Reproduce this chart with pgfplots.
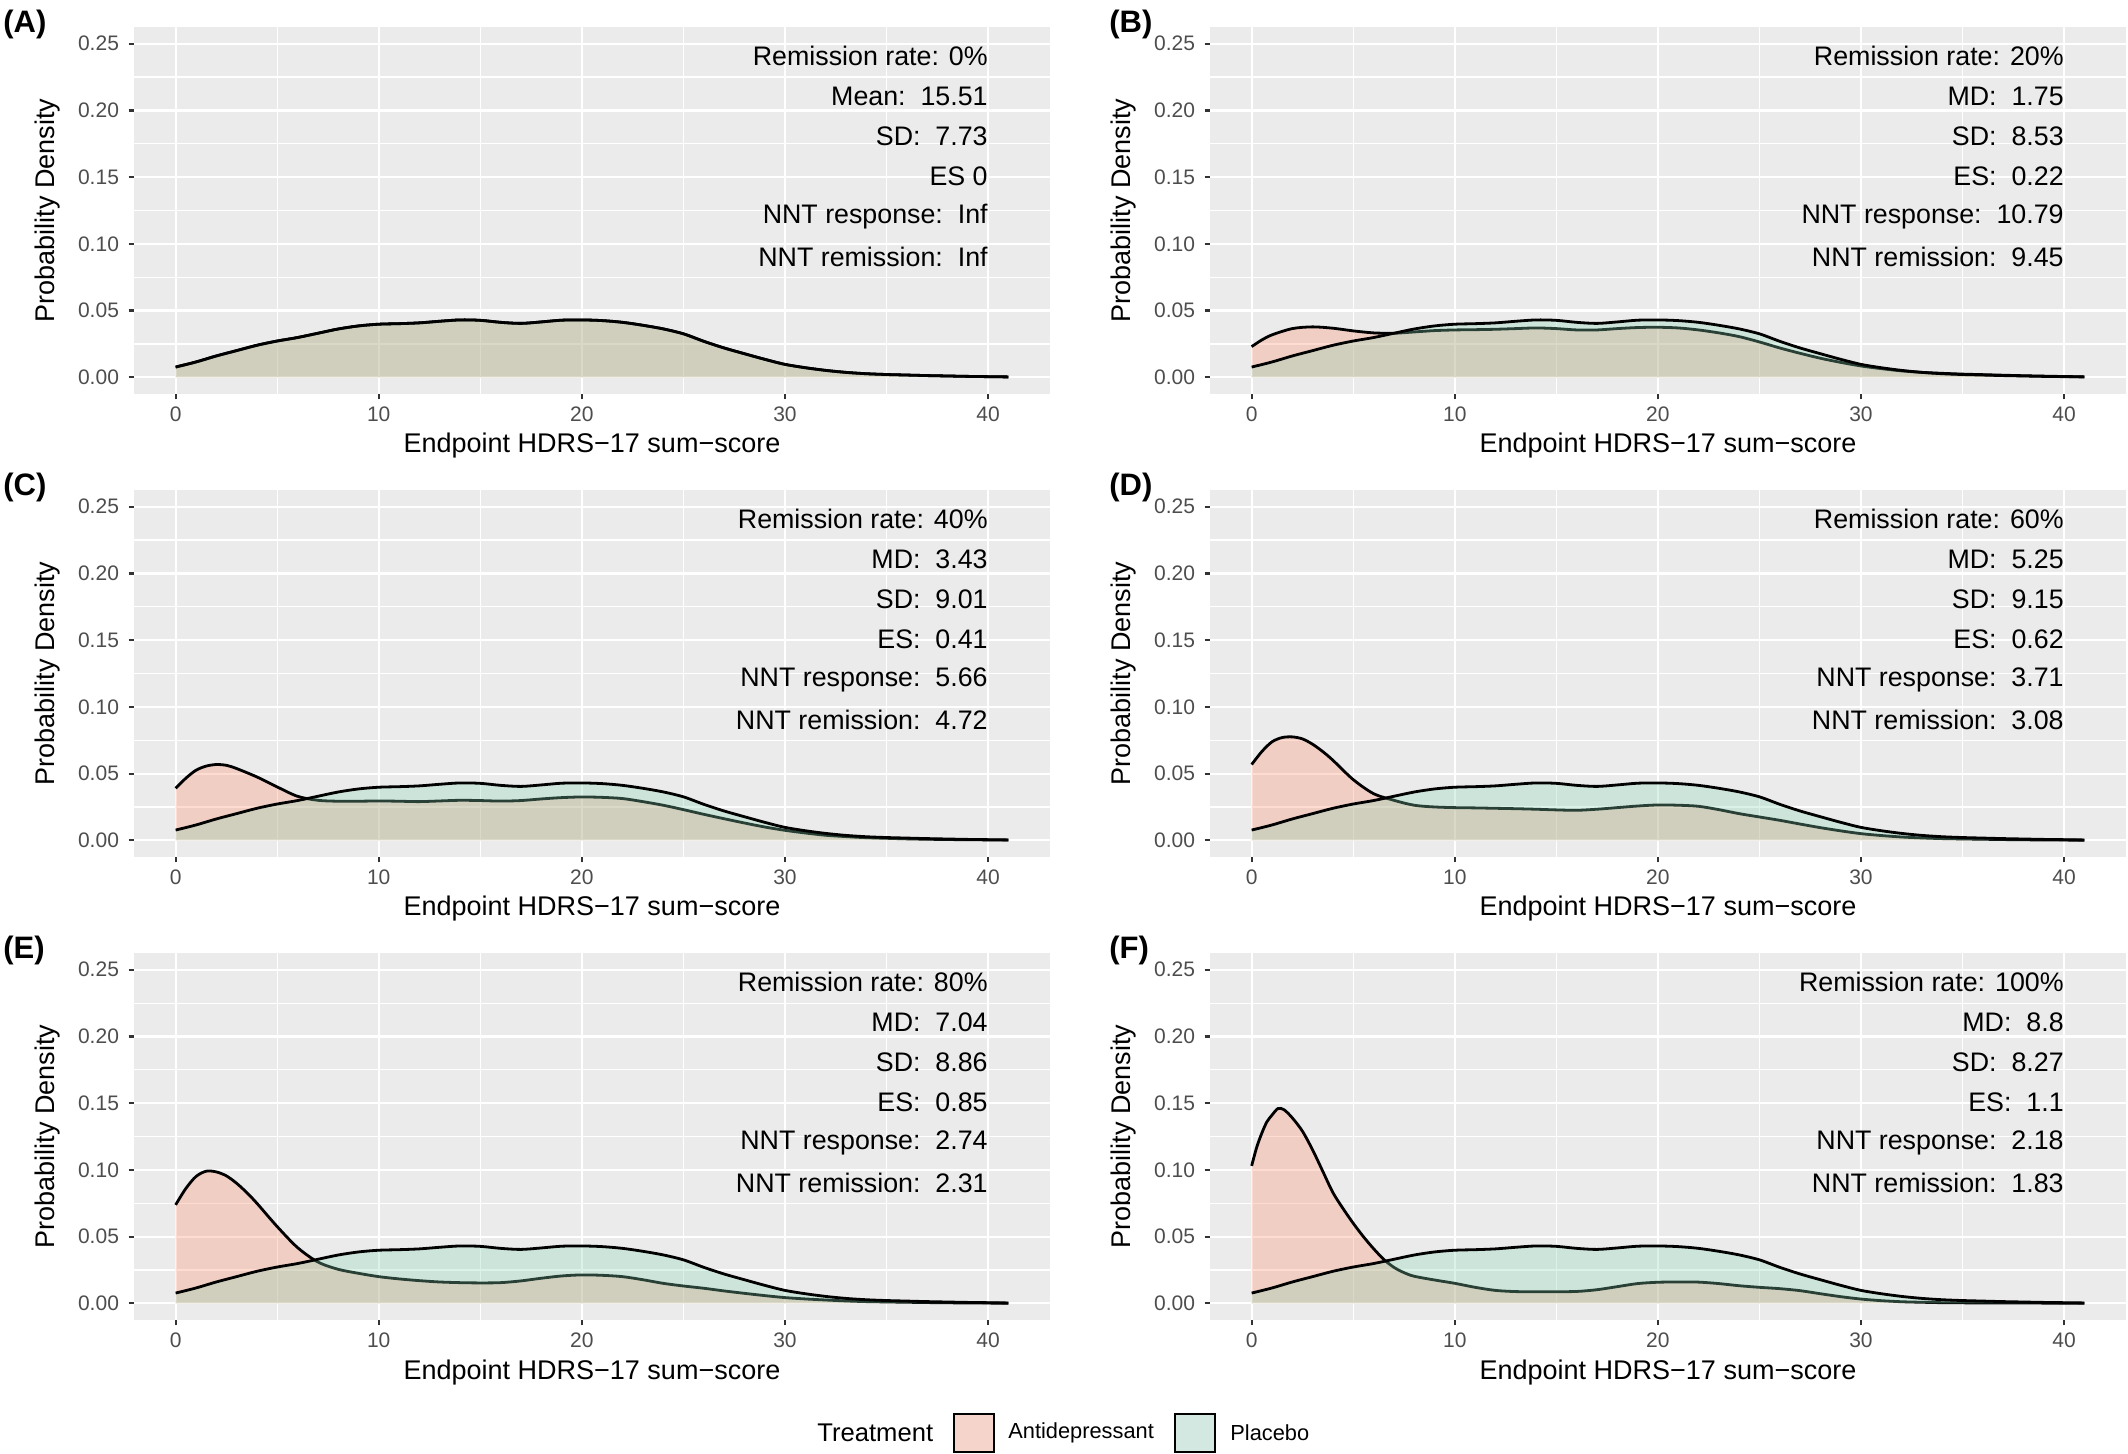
\documentclass[border=0pt]{standalone}
\usepackage{fontspec}
\setmainfont{Liberation Sans}
\usepackage{pgfplots}
\usepackage{pgfplotstable}
\pgfplotsset{compat=1.18}

\definecolor{bgGrey}{HTML}{EBEBEB}
\definecolor{tickGrey}{HTML}{333333}
\definecolor{labGrey}{HTML}{4D4D4D}
\definecolor{adCol}{RGB}{255,142,108}
\definecolor{plCol}{RGB}{135,212,178}
\definecolor{adKey}{HTML}{F5D5CB}
\definecolor{plKey}{HTML}{D2E8E0}

\pgfplotstableread{
x y
0 0.0077
1 0.0115
2 0.0160
3 0.0200
4 0.0240
5 0.0272
6 0.0298
7 0.0330
8 0.0362
9 0.0385
10 0.0398
11 0.0402
12 0.0408
13 0.0420
14 0.0430
15 0.0427
16 0.0412
17 0.0404
18 0.0415
19 0.0428
20 0.0430
21 0.0425
22 0.0412
23 0.0390
24 0.0363
25 0.0326
26 0.0270
27 0.0220
28 0.0177
29 0.0135
30 0.0097
31 0.0072
32 0.0052
33 0.0037
34 0.0027
35 0.0021
36 0.0017
37 0.0013
38 0.0010
39 0.0007
40 0.0005
41 0.0003
}\tabP

\pgfplotstableread{
x y
0 0.0230
0.5 0.0280
1 0.0318
2 0.0365
3 0.0378
4 0.0368
5 0.0348
6 0.0333
7 0.0330
8 0.0340
9 0.0350
10 0.0355
11 0.0357
12 0.0360
13 0.0365
14 0.0370
15 0.0365
16 0.0355
17 0.0355
18 0.0365
19 0.0373
20 0.0375
21 0.0370
22 0.0355
23 0.0333
24 0.0305
25 0.0265
26 0.0220
27 0.0180
28 0.0143
29 0.0112
30 0.0085
31 0.0065
32 0.0048
33 0.0037
34 0.0030
35 0.0024
36 0.0020
38 0.0012
40 0.0006
41 0.0004
}\tabB

\pgfplotstableread{
x y
0 0.0390
0.5 0.0465
1 0.0525
1.5 0.0556
2 0.0568
2.5 0.0562
3 0.0538
4 0.0475
5 0.0400
6 0.0330
7 0.0300
8 0.0293
9 0.0293
10 0.0295
11 0.0293
12 0.0290
13 0.0295
14 0.0300
15 0.0298
16 0.0294
17 0.0298
18 0.0310
19 0.0320
20 0.0325
21 0.0322
22 0.0313
23 0.0290
24 0.0263
25 0.0230
26 0.0195
27 0.0162
28 0.0130
29 0.0100
30 0.0075
31 0.0055
32 0.0038
33 0.0028
34 0.0020
36 0.0011
38 0.0006
41 0.0002
}\tabC

\pgfplotstableread{
x y
0 0.0568
0.5 0.0665
1 0.0738
1.5 0.0770
2 0.0775
2.5 0.0760
3 0.0720
3.5 0.0665
4 0.0600
5 0.0455
6 0.0350
7 0.0300
8 0.0263
9 0.0250
10 0.0245
11 0.0243
12 0.0240
13 0.0237
14 0.0233
15 0.0228
16 0.0225
17 0.0233
18 0.0245
19 0.0257
20 0.0265
21 0.0263
22 0.0255
23 0.0230
24 0.0200
25 0.0175
26 0.0150
27 0.0122
28 0.0095
29 0.0071
30 0.0050
31 0.0036
32 0.0025
33 0.0018
34 0.0013
36 0.0008
38 0.0004
41 0.0001
}\tabD

\pgfplotstableread{
x y
0 0.0738
0.5 0.0860
1 0.0950
1.5 0.0990
2 0.0985
2.5 0.0955
3 0.0900
3.5 0.0830
4 0.0750
5 0.0575
6 0.0418
7 0.0310
8 0.0255
9 0.0225
10 0.0200
11 0.0183
12 0.0170
13 0.0160
14 0.0155
15 0.0153
16 0.0155
17 0.0168
18 0.0188
19 0.0205
20 0.0213
21 0.0210
22 0.0200
23 0.0177
24 0.0150
25 0.0130
26 0.0113
27 0.0093
28 0.0075
29 0.0058
30 0.0043
31 0.0033
32 0.0025
33 0.0018
34 0.0013
36 0.0008
38 0.0004
41 0.0001
}\tabE

\pgfplotstableread{
x y
0 0.1030
0.25 0.1170
0.5 0.1275
0.75 0.1360
1 0.1410
1.3 0.1460
1.6 0.1450
2 0.1390
2.5 0.1290
3 0.1150
3.5 0.0990
4 0.0830
4.5 0.0710
5 0.0600
5.5 0.0500
6 0.0410
6.5 0.0330
7 0.0270
7.5 0.0230
8 0.0203
9 0.0175
10 0.0150
11 0.0120
12 0.0097
13 0.0088
14 0.0087
15 0.0087
16 0.0089
17 0.0102
18 0.0125
19 0.0148
20 0.0158
21 0.0160
22 0.0159
23 0.0148
24 0.0132
25 0.0120
26 0.0110
27 0.0095
28 0.0072
29 0.0050
30 0.0032
31 0.0020
32 0.0012
33 0.0008
34 0.0005
36 0.0003
41 0.0001
}\tabF

\pgfplotsset{
  panel/.style={
    scale only axis, width=458pt, height=183.5pt,
    xmin=-2.05, xmax=43.05, ymin=-0.0125, ymax=0.2625,
    axis background/.style={fill=bgGrey},
    axis line style={draw=none},
    xtick={0,10,20,30,40}, minor xtick={5,15,25,35},
    ytick={0,0.05,0.1,0.15,0.2,0.25},
    minor ytick={0.025,0.075,0.125,0.175,0.225},
    grid=both,
    major grid style={white, line width=1.1pt},
    minor grid style={white, line width=0.55pt},
    tick align=outside, tick pos=left,
    major tick length=2.7pt, minor tick length=0pt,
    major tick style={tickGrey, line width=1.1pt},
    /pgf/number format/assume math mode=true,
    ticklabel style={font=\fontsize{10.5}{12}\selectfont, text=labGrey},
    yticklabel style={/pgf/number format/fixed, /pgf/number format/fixed zerofill, /pgf/number format/precision=2, xshift=-1.3pt},
    xlabel={Endpoint HDRS−17 sum−score},
    ylabel={Probability Density},
    every axis x label/.style={at={(axis description cs:0.5,0)}, yshift=-26pt, anchor=center, font=\fontsize{13.5}{16}\selectfont},
    every axis y label/.style={at={(axis description cs:0,0.5)}, xshift=-43.25pt, rotate=90, anchor=center, font=\fontsize{13.5}{16}\selectfont},
  },
  adfill/.style={draw=none, fill=adCol, fill opacity=0.3, smooth},
  plfill/.style={draw=none, fill=plCol, fill opacity=0.3, smooth},
  dline/.style={black, line width=1.4pt, smooth},
}

\newcommand{\annot}[6]{%
  \node[anchor=east, inner sep=0pt, font=\fontsize{13.4}{16}\selectfont] at (axis cs:40,0.2405) {#1};
  \node[anchor=east, inner sep=0pt, font=\fontsize{13.4}{16}\selectfont] at (axis cs:40,0.2105) {#2};
  \node[anchor=east, inner sep=0pt, font=\fontsize{13.4}{16}\selectfont] at (axis cs:40,0.1805) {#3};
  \node[anchor=east, inner sep=0pt, font=\fontsize{13.4}{16}\selectfont] at (axis cs:40,0.1505) {#4};
  \node[anchor=east, inner sep=0pt, font=\fontsize{13.4}{16}\selectfont] at (axis cs:40,0.1205) {#5};
  \node[anchor=east, inner sep=0pt, font=\fontsize{13.4}{16}\selectfont] at (axis cs:40,0.0905) {#6};
}

\newcommand{\pairplot}[1]{%
  \addplot[adfill] table[x=x,y=y] {#1} \closedcycle;
  \addplot[dline] table[x=x,y=y] {#1};
  \addplot[plfill] table[x=x,y=y] {\tabP} \closedcycle;
  \addplot[dline] table[x=x,y=y] {\tabP};
}

\begin{document}
\begin{tikzpicture}
\path[use as bounding box] (0pt,0pt) rectangle (1064pt,-727pt);

% (A)
\begin{axis}[panel, at={(67pt,-13.5pt)}, anchor=north west]
  \pairplot{\tabP}
  \annot{Remission rate: 0\%}{Mean:\ \ 15.51}{SD:\ \ 7.73}{ES 0}{NNT response:\ \ Inf}{NNT remission:\ \ Inf}
\end{axis}
% (B)
\begin{axis}[panel, at={(605pt,-13.5pt)}, anchor=north west]
  \pairplot{\tabB}
  \annot{Remission rate: 20\%}{MD:\ \ 1.75}{SD:\ \ 8.53}{ES:\ \ 0.22}{NNT response:\ \ 10.79}{NNT remission:\ \ 9.45}
\end{axis}
% (C)
\begin{axis}[panel, at={(67pt,-245pt)}, anchor=north west]
  \pairplot{\tabC}
  \annot{Remission rate: 40\%}{MD:\ \ 3.43}{SD:\ \ 9.01}{ES:\ \ 0.41}{NNT response:\ \ 5.66}{NNT remission:\ \ 4.72}
\end{axis}
% (D)
\begin{axis}[panel, at={(605pt,-245pt)}, anchor=north west]
  \pairplot{\tabD}
  \annot{Remission rate: 60\%}{MD:\ \ 5.25}{SD:\ \ 9.15}{ES:\ \ 0.62}{NNT response:\ \ 3.71}{NNT remission:\ \ 3.08}
\end{axis}
% (E)
\begin{axis}[panel, at={(67pt,-476.5pt)}, anchor=north west]
  \pairplot{\tabE}
  \annot{Remission rate: 80\%}{MD:\ \ 7.04}{SD:\ \ 8.86}{ES:\ \ 0.85}{NNT response:\ \ 2.74}{NNT remission:\ \ 2.31}
\end{axis}
% (F)
\begin{axis}[panel, at={(605pt,-476.5pt)}, anchor=north west]
  \pairplot{\tabF}
  \annot{Remission rate: 100\%}{MD:\ \ 8.8}{SD:\ \ 8.27}{ES:\ \ 1.1}{NNT response:\ \ 2.18}{NNT remission:\ \ 1.83}
\end{axis}

% panel letters
\foreach \lab/\px/\py in {A/1.5/-12, B/554.5/-12, C/1.5/-243.5, D/554.5/-243.5, E/1.5/-475, F/554.5/-475}{
  \node[anchor=west, inner sep=0pt, font=\bfseries\fontsize{15.5}{18}\selectfont] at (\px pt,\py pt) {(\lab)};
}

% legend
\node[anchor=west, inner sep=0pt, font=\fontsize{12.8}{15}\selectfont] at (408.5pt,-716.5pt) {Treatment};
\draw[fill=adKey, draw=black, line width=1.1pt] (477pt,-706.8pt) rectangle (497pt,-725.8pt);
\node[anchor=west, inner sep=0pt, font=\fontsize{10.9}{13}\selectfont] at (504pt,-716.5pt) {Antidepressant};
\draw[fill=plKey, draw=black, line width=1.1pt] (587.5pt,-706.8pt) rectangle (607.5pt,-725.8pt);
\node[anchor=west, inner sep=0pt, font=\fontsize{10.9}{13}\selectfont] at (615pt,-716.5pt) {Placebo};
\end{tikzpicture}
\end{document}
